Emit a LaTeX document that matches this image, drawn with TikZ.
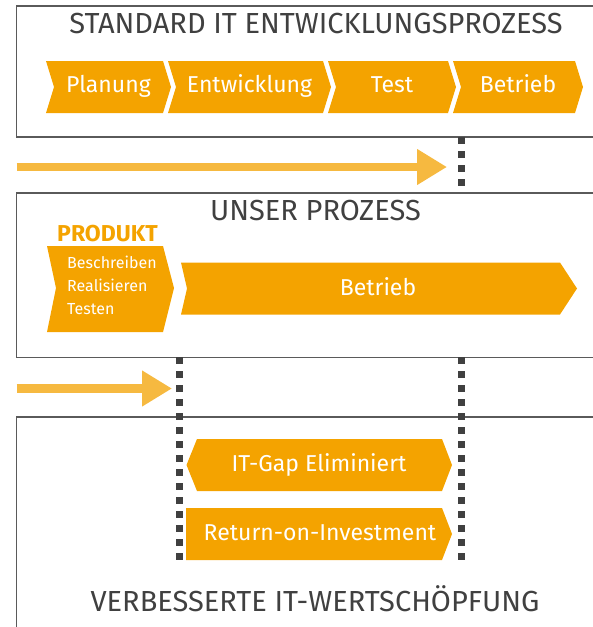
\documentclass[tikz,border=0pt]{standalone}
\usepackage{fontspec}
\setmainfont{Fira Sans}
\usetikzlibrary{arrows.meta}
\definecolor{orangeA}{HTML}{F4A300}
\definecolor{orangeB}{HTML}{F6B940}
\definecolor{grauText}{HTML}{404040}
\definecolor{grauRand}{HTML}{5A5A5A}
\begin{document}
\begin{tikzpicture}[x=1pt, y=-1pt, line join=miter, >={Triangle[length=30pt,width=34pt]},
	kasten/.style={draw=grauRand, line width=1.4pt},
	feld/.style={fill=orangeA},
	titel/.style={text=grauText, font=\fontsize{29}{33}\selectfont, anchor=base, inner sep=0pt},
	etikett/.style={text=white, font=\fontsize{23}{27}\selectfont, anchor=base, inner sep=0pt},
	klein/.style={text=white, font=\fontsize{16}{20}\selectfont, anchor=base west, inner sep=0pt},
	pfeil/.style={draw=orangeB, line width=8.4pt, ->},
	punkte/.style={draw=grauText, line width=7pt, dash pattern=on 7pt off 7pt}]
	
	% Rahmen der Zeichnung
	\useasboundingbox (0,0) rectangle (593,627);
	\clip (0,0) rectangle (593,627);
	
	% Drei Kästen (rechts und unten abgeschnitten)
	\draw[kasten] (16.5,6) rectangle (610,137);
	\draw[kasten] (16.5,193) rectangle (610,357.5);
	\draw[kasten] (16.5,417) rectangle (610,640);
	
	% Standardprozess
	\node[titel] (standard) at (316,33) {STANDARD IT ENTWICKLUNGSPROZESS};
	\foreach \a/\b/\t/\n in {46/163/Planung/planung, 168/323/Entwicklung/entwicklung, 328/448/Test/test, 453/575/Betrieb/betrieb}{
		\fill[feld] (\a,61) -- (\b,61) -- (\b+8,87) -- (\b,113) -- (\a,113) -- (\a+8,87) -- cycle;
		\node[etikett] (\n) at ({(\a+\b+8)/2},92.5) {\t};
	}
	
	% Unser Prozess
	\node[titel] (unser) at (315.5,220.5) {UNSER PROZESS};
	\node[titel, text=orangeA, font=\bfseries\fontsize{23}{27}\selectfont] (produkt) at (107.5,241) {PRODUKT};
	\fill[feld] (47,246) -- (163,246) -- (174,288) -- (163,332) -- (47,332) -- (56,288) -- cycle;
	\foreach \t [count=\i] in {Beschreiben,Realisieren,Testen}
		\node[klein] (schritt\i) at (67,245+23.3*\i) {\t};
	\fill[feld] (181,262.5) -- (560,262.5) -- (577,288.5) -- (560,314.5) -- (181,314.5) -- (187,288.5) -- cycle;
	\node[etikett] (betriebneu) at (378,295) {Betrieb};
	
	% Ergebnis
	\fill[feld] (197,439) -- (442,439) -- (452,465) -- (442,491) -- (197,491) -- (186.5,465) -- cycle;
	\node[etikett] (gap) at (319,471.5) {IT-Gap Eliminiert};
	\fill[feld] (186,508) -- (442,508) -- (452,534) -- (442,560) -- (186,560) -- cycle;
	\node[etikett] (roi) at (320,540.5) {Return-on-Investment};
	\node[titel] (wert) at (315,611.5) {VERBESSERTE IT-WERTSCHÖPFUNG};
	
	% Zeitpfeile
	\coordinate (start1) at (16.5,167); \coordinate (ende1) at (447,167);
	\coordinate (start2) at (16.5,388.5); \coordinate (ende2) at (172,388.5);
	\draw[pfeil] (start1) -- (ende1);
	\draw[pfeil] (start2) -- (ende2);
	
	% Gepunktete Trennlinien
	\coordinate (alt1) at (461,137); \coordinate (alt2) at (461,193);
	\coordinate (alt3) at (461,357); \coordinate (alt4) at (461,562);
	\coordinate (neu1) at (179,357); \coordinate (neu2) at (179,562);
	\draw[punkte] (alt1) -- (alt2);
	\draw[punkte] (alt3) -- (alt4);
	\draw[punkte] (neu1) -- (neu2);
\end{tikzpicture}
\end{document}
